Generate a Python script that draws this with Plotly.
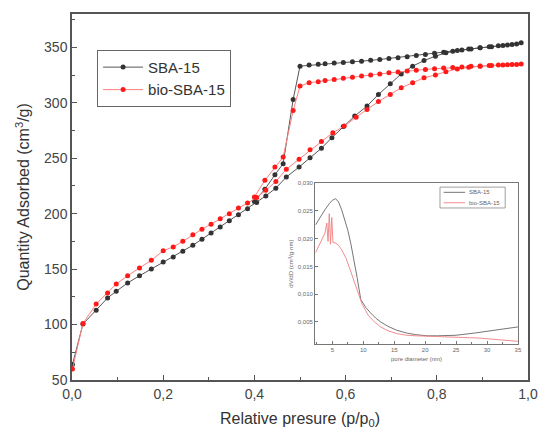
import plotly.graph_objects as go

# ---- main isotherm data ----
sba_p = [0.001, 0.024, 0.053, 0.078, 0.097, 0.122, 0.148, 0.174, 0.200, 0.222, 0.243, 0.265, 0.285,
         0.305, 0.325, 0.345, 0.365, 0.385, 0.405, 0.425, 0.447, 0.470, 0.498, 0.522, 0.547, 0.570,
         0.595, 0.620, 0.647, 0.672, 0.698, 0.722, 0.747, 0.772, 0.797, 0.820, 0.845, 0.870, 0.895,
         0.920, 0.945, 0.965, 0.985,
         0.975, 0.955, 0.935, 0.915, 0.895, 0.875, 0.855, 0.835, 0.815, 0.795, 0.775, 0.755, 0.735,
         0.715, 0.695, 0.675, 0.655, 0.635, 0.615, 0.595, 0.575, 0.555, 0.540, 0.520, 0.500, 0.485,
         0.463, 0.445, 0.423, 0.400]
sba_v = [64, 100.5, 113, 124, 130, 137.5, 144, 150, 156.5, 161, 166, 171.5, 177,
         182.5, 188, 193.5, 199, 204.5, 210, 216, 223, 233, 242, 250.5, 259, 268.5,
         278.5, 288, 297, 307.5, 317, 326, 333, 338, 342, 345, 347, 348.5, 349.5,
         350.5, 351.5, 352.5, 354,
         353, 352, 351.3, 350.5, 349.5, 348.5, 347.5, 346.5, 345.5, 344.5, 343.5, 342.5, 341.5,
         340.5, 339.8, 339, 338.2, 337.5, 337, 336.3, 335.8, 335.2, 334.6, 334, 333, 303,
         245, 235, 222, 211]

bio_p = [0.001, 0.024, 0.053, 0.078, 0.097, 0.122, 0.148, 0.174, 0.200, 0.222, 0.243, 0.265, 0.285,
         0.305, 0.325, 0.345, 0.365, 0.385, 0.405, 0.425, 0.447, 0.470, 0.498, 0.522, 0.547, 0.572,
         0.597, 0.623, 0.647, 0.672, 0.698, 0.722, 0.747, 0.772, 0.797, 0.820, 0.845, 0.870, 0.895,
         0.920, 0.945, 0.965, 0.985,
         0.975, 0.955, 0.935, 0.915, 0.895, 0.875, 0.855, 0.835, 0.815, 0.795, 0.775, 0.755, 0.735,
         0.715, 0.695, 0.675, 0.655, 0.635, 0.615, 0.595, 0.575, 0.555, 0.540, 0.520, 0.500, 0.485,
         0.463, 0.445, 0.423, 0.400]
bio_v = [60, 101, 118.5, 128.5, 136.5, 144, 151, 158, 166.5, 170, 175, 181, 186,
         190.5, 195.5, 200, 205, 209.5, 214.5, 221, 229, 240, 249, 257.5, 265, 273,
         279, 287, 294, 301, 307.5, 313.5, 318, 322.5, 325, 328, 330.5, 332, 333,
         333.5, 334, 334.5, 335,
         334.5, 334.2, 334, 333.6, 333.2, 332.8, 332.3, 331.8, 331.2, 330.6, 330, 329.3, 328.5,
         327.7, 327, 326, 325, 324, 323, 322, 321, 320, 319, 318, 315, 293,
         251, 242, 230, 215]

# ---- inset pore size distribution ----
sba_d = [2.3, 3.0, 3.8, 4.5, 5.0, 5.5, 6.0, 6.5, 7.0, 7.5, 8.0, 8.5, 9.0, 9.6, 10.4, 11.2, 12.0,
         12.8, 14.0, 15.4, 17.0, 18.5, 20.3, 22.0, 25.0, 28.0, 30.0, 32.5, 35.0]
sba_dv = [0.0225, 0.0238, 0.0252, 0.0263, 0.0269, 0.0272, 0.0266, 0.0252, 0.0234, 0.0215, 0.0190,
          0.0162, 0.0130, 0.0090, 0.0076, 0.0066, 0.0057, 0.0050, 0.0042, 0.0035, 0.0030, 0.0027,
          0.0025, 0.0025, 0.0026, 0.0030, 0.0033, 0.0037, 0.0041]
bio_d = [2.3, 2.9, 3.4, 3.8, 4.1, 4.3, 4.5, 4.7, 4.9, 5.1, 5.5, 6.0, 6.5, 7.2, 8.0, 9.0, 9.8, 10.8,
         11.8, 12.8, 14.0, 15.4, 17.0, 18.5, 20.3, 23.0, 26.0, 28.6, 32.0, 35.0]
bio_dv = [0.0175, 0.0190, 0.0200, 0.0210, 0.0228, 0.0195, 0.0245, 0.0190, 0.0238, 0.0193, 0.0192,
          0.0188, 0.0180, 0.0165, 0.0140, 0.0107, 0.0082, 0.0062, 0.0050, 0.0041, 0.0034, 0.0029,
          0.0026, 0.0025, 0.0024, 0.0023, 0.0022, 0.0021, 0.0018, 0.0015]

main_xticks = [0.0, 0.2, 0.4, 0.6, 0.8, 1.0]
main_xtext = ["0,0", "0,2", "0,4", "0,6", "0,8", "1,0"]
main_yticks = [50, 100, 150, 200, 250, 300, 350]
inset_xticks = [5, 10, 15, 20, 25, 30, 35]
inset_yticks = [0.005, 0.010, 0.015, 0.020, 0.025, 0.030]
inset_ytext = ["0,005", "0,010", "0,015", "0,020", "0,025", "0,030"]
inset_names = ["SBA-15", "bio-SBA-15"]

DARK = "#333333"
RED = "#ff1a1a"
INSET_COLORS = ["#666666", "#f08080"]
FONT = "Liberation Sans, Arial, sans-serif"

fig = go.Figure()
fig.add_trace(go.Scatter(x=sba_p, y=sba_v, mode="lines+markers", name="SBA-15",
                         line=dict(color="#555555", width=1),
                         marker=dict(color=DARK, size=5, symbol="circle")))
fig.add_trace(go.Scatter(x=bio_p, y=bio_v, mode="lines+markers", name="bio-SBA-15",
                         line=dict(color="#ff8080", width=1),
                         marker=dict(color=RED, size=5, symbol="circle")))
fig.add_trace(go.Scatter(x=sba_d, y=sba_dv, mode="lines", name="SBA-15", xaxis="x2", yaxis="y2",
                         showlegend=False, line=dict(color=INSET_COLORS[0], width=0.9)))
fig.add_trace(go.Scatter(x=bio_d, y=bio_dv, mode="lines", name="bio-SBA-15", xaxis="x2", yaxis="y2",
                         showlegend=False, line=dict(color=INSET_COLORS[1], width=0.9)))

# inset legend (small boxed key drawn in paper coordinates)
lx0, lx1, ly0, ly1 = 0.807, 0.950, 0.470, 0.527
shapes = [dict(type="rect", xref="paper", yref="paper", x0=lx0, x1=lx1, y0=ly0, y1=ly1,
               line=dict(color="#888888", width=0.8), fillcolor="white", layer="above")]
annotations = []
for i, (nm, col) in enumerate(zip(inset_names, INSET_COLORS)):
    yy = ly1 - (i + 0.5) * (ly1 - ly0) / 2
    shapes.append(dict(type="line", xref="paper", yref="paper", x0=lx0 + 0.008, x1=lx0 + 0.055,
                       y0=yy, y1=yy, line=dict(color=col, width=0.9), layer="above"))
    annotations.append(dict(xref="paper", yref="paper", x=lx0 + 0.06, y=yy, text=nm, showarrow=False,
                            xanchor="left", yanchor="middle", font=dict(size=6, color="#666666")))

axis_common = dict(showline=True, linecolor="#555555", linewidth=1.5, mirror=True, automargin=False,
                   ticks="inside", tickcolor="#555555", showgrid=False, zeroline=False)

fig.update_layout(
    width=542, height=435,
    margin=dict(l=72, r=14, t=14, b=55, autoexpand=False),
    paper_bgcolor="white", plot_bgcolor="white",
    font=dict(family=FONT, color="#333333"),
    xaxis=dict(**axis_common, range=[0, 1.0], tickvals=main_xticks, ticktext=main_xtext,
               ticklen=5, tickwidth=1.2, tickfont=dict(size=14, color="#444444"),
               minor=dict(dtick=0.1, ticks="inside", ticklen=3, tickcolor="#555555"),
               title=dict(text="Relative presure (p/p<sub>0</sub>)", font=dict(size=16, color="#333333"),
                          standoff=12)),
    yaxis=dict(**axis_common, range=[50, 380], tickvals=main_yticks,
               ticklen=5, tickwidth=1.2, tickfont=dict(size=14, color="#444444"),
               minor=dict(dtick=25, ticks="inside", ticklen=3, tickcolor="#555555"),
               title=dict(text="Quantity Adsorbed (cm<sup>3</sup>/g)", font=dict(size=16, color="#333333"),
                          standoff=10)),
    xaxis2=dict(showline=True, linecolor="#777777", linewidth=1, mirror=True, ticks="inside",
                tickcolor="#777777", ticklen=3, showgrid=False, zeroline=False, automargin=False,
                domain=[0.533, 0.978], anchor="y2", range=[2.2, 35], tickvals=inset_xticks,
                tickfont=dict(size=6, color="#666666"),
                minor=dict(dtick=2.5, ticks="inside", ticklen=2, tickcolor="#777777"),
                title=dict(text="pore diameter (nm)", font=dict(size=6, color="#666666"), standoff=4)),
    yaxis2=dict(showline=True, linecolor="#777777", linewidth=1, mirror=True, ticks="inside",
                tickcolor="#777777", ticklen=3, showgrid=False, zeroline=False, automargin=False,
                domain=[0.098, 0.538], anchor="x2", range=[0.001, 0.030], tickvals=inset_yticks,
                ticktext=inset_ytext, tickfont=dict(size=6, color="#666666"),
                title=dict(text="dV/dD (cm<sup>3</sup>/g·nm)", font=dict(size=6, color="#666666"),
                           standoff=3)),
    legend=dict(x=0.055, y=0.902, xanchor="left", yanchor="top", bgcolor="white",
                bordercolor="#666666", borderwidth=1, font=dict(size=15, color="#333333"),
                itemwidth=40, tracegroupgap=0),
    shapes=shapes,
    annotations=annotations,
    showlegend=True,
)

# remove the default page margin so the 542x435 figure fills the window exactly
fig.write_html("out.html", config={"displayModeBar": False},
               post_script="document.body.style.margin='0';")
